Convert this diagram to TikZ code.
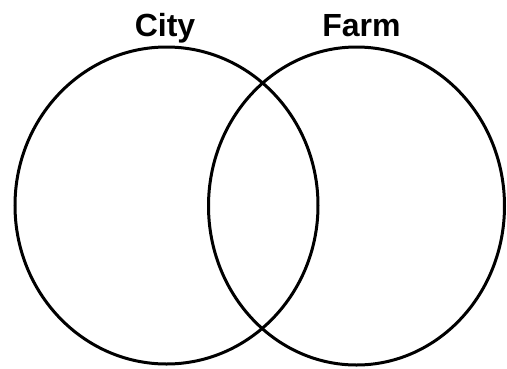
\documentclass[tikz,border=0pt]{standalone}
\usepackage{fontspec}
\setmainfont{Liberation Sans}
\begin{document}
\begin{tikzpicture}[x=1pt,y=-1pt,
  ring/.style={draw=black,line width=3pt},
  lbl/.style={font=\fontsize{32}{36}\selectfont\bfseries,anchor=base,inner sep=0pt}]
\useasboundingbox (0,0) rectangle (507,368);
\draw[ring] (166.5,205.5) ellipse [x radius=151.5, y radius=158.5];
\draw[ring] (356.5,206) ellipse [x radius=148, y radius=159];
\node[lbl] (city) at (165,36) {City};
\node[lbl] (farm) at (361.5,36) {Farm};
\end{tikzpicture}
\end{document}
